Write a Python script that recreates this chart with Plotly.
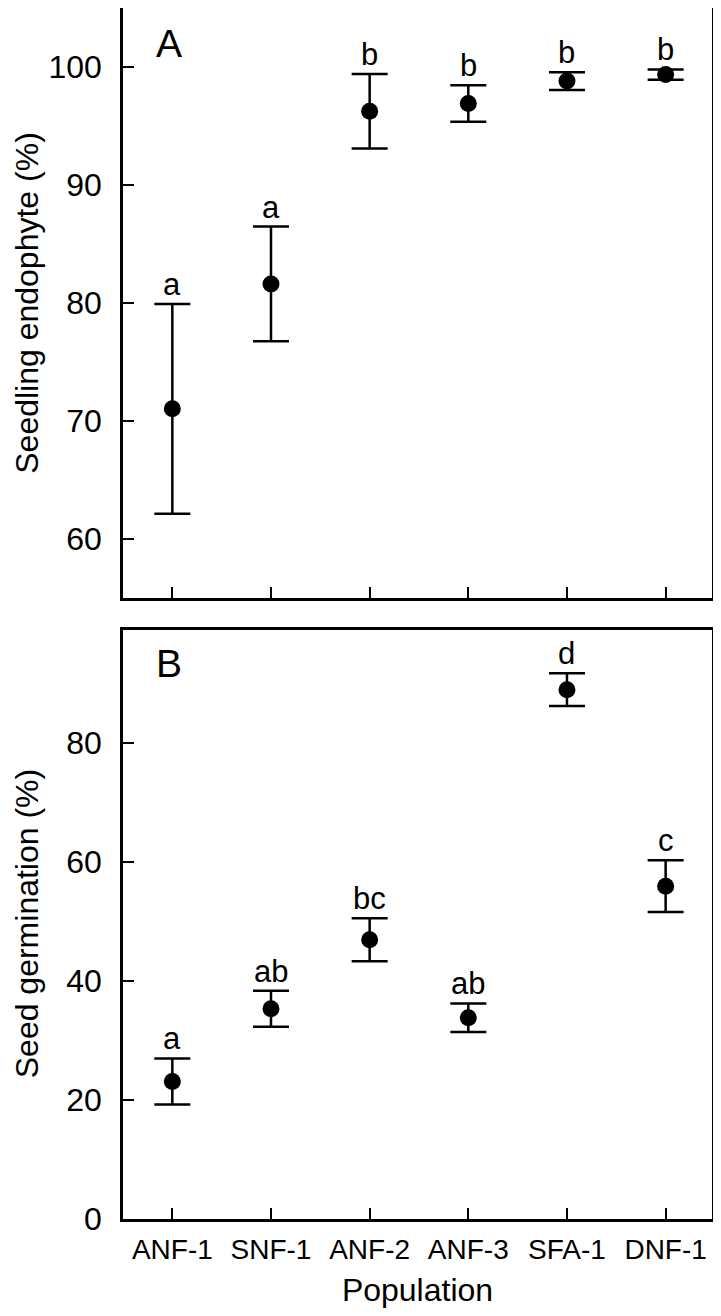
import plotly.graph_objects as go
from plotly.subplots import make_subplots

# populations on the x axis (same for both panels)
populations = ["ANF-1", "SNF-1", "ANF-2", "ANF-3", "SFA-1", "DNF-1"]

# panel A - seedling endophyte (%), mean and error
endophyte = [71.0, 81.6, 96.25, 96.9, 98.8, 99.35]
endophyte_err = [8.9, 4.86, 3.16, 1.54, 0.75, 0.44]
endophyte_letters = ["a", "a", "b", "b", "b", "b"]

# panel B - seed germination (%), mean and error
germination = [23.1, 35.3, 46.9, 33.8, 88.9, 55.9]
germination_err = [3.86, 3.02, 3.6, 2.41, 2.75, 4.35]
germination_letters = ["a", "ab", "bc", "ab", "d", "c"]

FONT = "Liberation Sans, Arial, Helvetica, sans-serif"
PLOT_W = 589  # width of the frame in px, used for title offsets

fig = make_subplots(rows=2, cols=1, vertical_spacing=32 / 1211)

fig.add_trace(go.Scatter(
    x=populations, y=endophyte, mode="markers",
    marker=dict(color="black", size=17),
    error_y=dict(type="data", array=endophyte_err, color="black",
                 thickness=2.5, width=18),
    showlegend=False), row=1, col=1)

fig.add_trace(go.Scatter(
    x=populations, y=germination, mode="markers",
    marker=dict(color="black", size=17),
    error_y=dict(type="data", array=germination_err, color="black",
                 thickness=2.5, width=18),
    showlegend=False), row=2, col=1)

# significance letters above the upper whisker
for p, m, e, l in zip(populations, endophyte, endophyte_err, endophyte_letters):
    fig.add_annotation(x=p, y=m + e, text=l, showarrow=False, yanchor="bottom",
                       xref="x", yref="y", font=dict(size=31, color="black"))
for p, m, e, l in zip(populations, germination, germination_err, germination_letters):
    fig.add_annotation(x=p, y=m + e, text=l, showarrow=False, yanchor="bottom",
                       xref="x2", yref="y2", font=dict(size=31, color="black"))

# panel labels
fig.add_annotation(x=0.052, y=0.94, xref="x domain", yref="y domain", text="A",
                   showarrow=False, xanchor="left", yanchor="middle",
                   font=dict(size=39, color="black"))
fig.add_annotation(x=0.052, y=0.943, xref="x2 domain", yref="y2 domain", text="B",
                   showarrow=False, xanchor="left", yanchor="middle",
                   font=dict(size=39, color="black"))

# y axis titles
fig.add_annotation(x=-96 / PLOT_W, y=0.5, xref="x domain", yref="y domain",
                   text="Seedling endophyte (%)", textangle=-90, showarrow=False,
                   xanchor="center", yanchor="middle",
                   font=dict(size=32, color="black"))
fig.add_annotation(x=-96 / PLOT_W, y=0.5, xref="x2 domain", yref="y2 domain",
                   text="Seed germination (%)", textangle=-90, showarrow=False,
                   xanchor="center", yanchor="middle",
                   font=dict(size=32, color="black"))

axis_common = dict(showline=True, linecolor="black", linewidth=2.5, mirror=True,
                   ticks="inside", ticklen=11, tickwidth=2, tickcolor="black",
                   showgrid=False, zeroline=False, automargin=False)

fig.update_xaxes(axis_common, range=[-0.5, 5.47])
fig.update_xaxes(showticklabels=False, row=1, col=1)
fig.update_xaxes(tickfont=dict(size=28, color="black"), ticklabelstandoff=4,
                 title=dict(text="Population", font=dict(size=32, color="black"),
                            standoff=31),
                 row=2, col=1)

fig.update_yaxes(axis_common, tickfont=dict(size=32, color="black"),
                 ticklabelstandoff=12)
fig.update_yaxes(range=[55, 105], tickvals=[60, 70, 80, 90, 100], row=1, col=1)
fig.update_yaxes(range=[0, 99], tickvals=[0, 20, 40, 60, 80], row=2, col=1)

fig.update_layout(
    width=705, height=1300,
    margin=dict(l=115, r=1, t=0, b=89),
    plot_bgcolor="white", paper_bgcolor="white",
    font=dict(family=FONT, color="black"),
)

fig.write_html("out.html")
